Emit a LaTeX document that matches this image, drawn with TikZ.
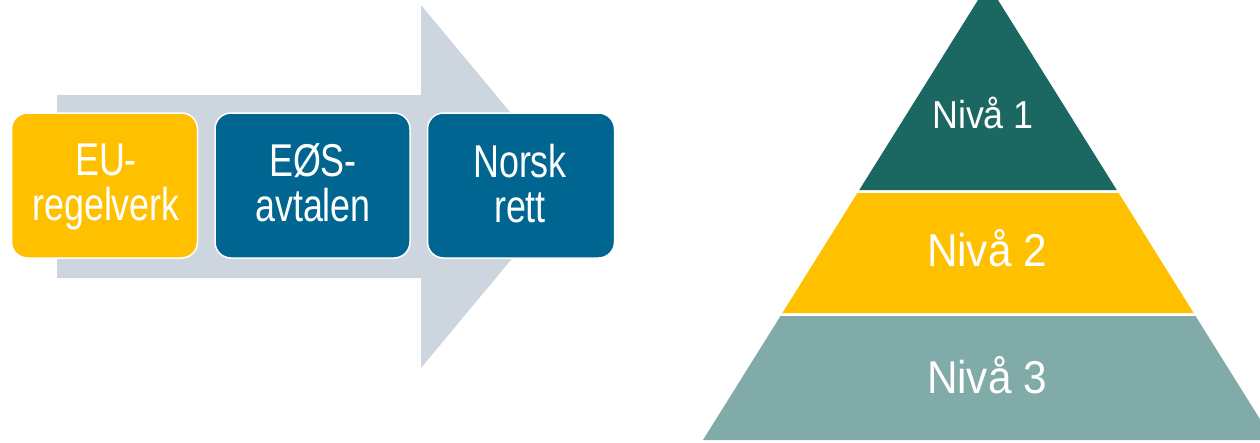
\documentclass[tikz,border=0pt]{standalone}
\usepackage{fontspec}
\setmainfont{Liberation Sans}
\usetikzlibrary{positioning}
\definecolor{NorYellow}{RGB}{255, 192, 0}
\definecolor{NorBlue}{RGB}{0, 102, 145}
\definecolor{NorTeal}{RGB}{27, 103, 98}
\definecolor{NorTealLight}{RGB}{128, 171, 168}
\definecolor{ArrowGrey}{RGB}{205, 213, 222}

\begin{document}
\begin{tikzpicture}[x=1pt, y=-1pt,
    stepbox/.style={rounded corners=16pt, draw=white, line width=1.5pt, inner sep=0pt,
        minimum width=#1, minimum height=145pt},
    boxtext/.style={text=white, align=center, inner sep=0pt, xscale=0.78,
        font=\fontsize{46}{45}\selectfont},
    leveltext/.style={text=white, anchor=base, inner sep=0pt, xscale=0.92}]
            \useasboundingbox (0,0) rectangle (1260,442);
            \clip (0,0) rectangle (1260,442);
            % process arrow behind the boxes
            \fill[ArrowGrey] (57,95) -- (421,95) -- (421,5) -- (572,186.5) -- (421,368)
                -- (421,278) -- (57,278) -- cycle;
            \foreach \name/\cx/\w/\col in {eu/104.5/186/NorYellow, eos/312.5/195/NorBlue, norsk/521/187/NorBlue} {
                \node[stepbox=\w, fill=\col] (\name) at (\cx,185.5) {};
            }
            \node[boxtext] (eu-txt) at (106,187) {EU-\\regelverk};
            \node[boxtext] (eos-txt) at (313,182.5) {EØS-\\avtalen};
            \node[boxtext] (norsk-txt) at (520,183.5) {Norsk\\rett};
            % pyramid
            \def\Ax{988}
            \def\Ay{16}
            \def\S{0.625}
            \foreach \yt/\yb/\col in {-16/190/NorTeal, 193/313/NorYellow, 316/440/NorTealLight} {
                \fill[\col] ({\Ax-(\yt+\Ay)*\S},\yt) -- ({\Ax+(\yt+\Ay)*\S},\yt)
                    -- ({\Ax+(\yb+\Ay)*\S},\yb) -- ({\Ax-(\yb+\Ay)*\S},\yb) -- cycle;
            }
            \node[leveltext, font=\fontsize{39}{39}\selectfont] (niva1) at (983,128) {Nivå 1};
            \node[leveltext, font=\fontsize{46}{46}\selectfont] (niva2) at (987,266) {Nivå 2};
            \node[leveltext, font=\fontsize{46}{46}\selectfont] (niva3) at (987,393) {Nivå 3};
        \end{tikzpicture}
\end{document}
